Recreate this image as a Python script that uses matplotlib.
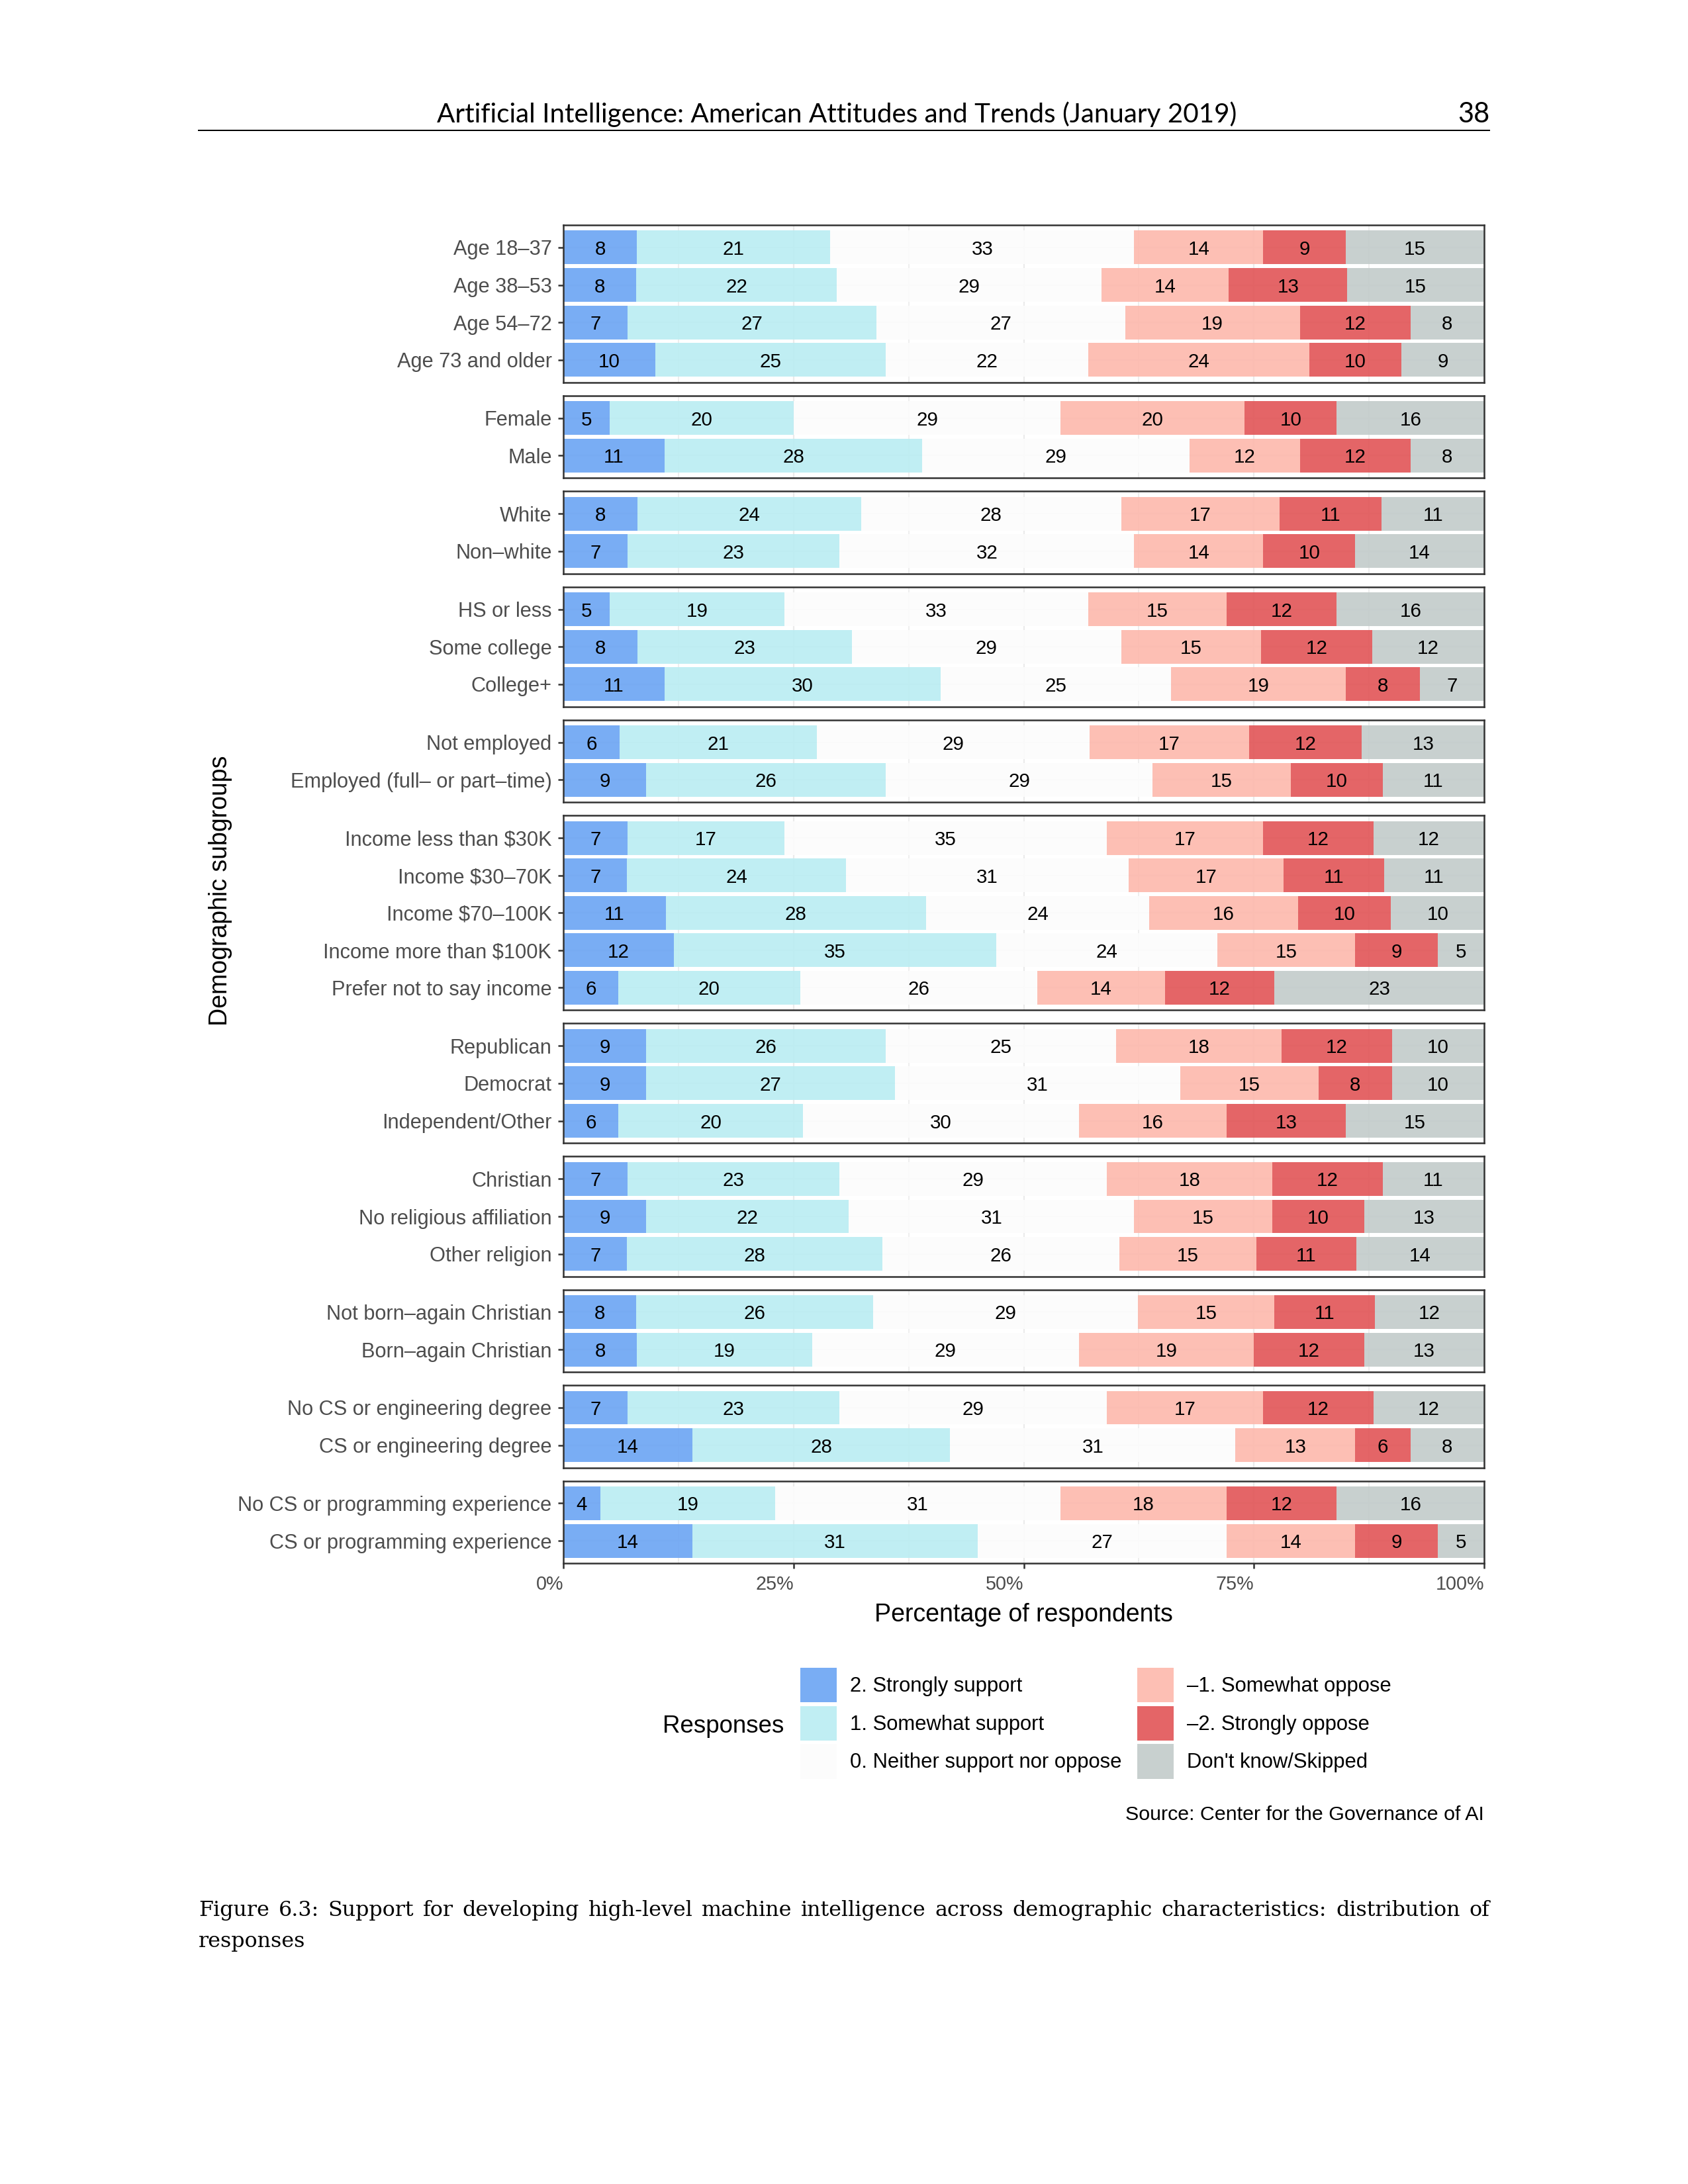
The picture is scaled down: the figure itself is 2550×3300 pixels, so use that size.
import numpy as np
import matplotlib
matplotlib.use("Agg")
import matplotlib.pyplot as plt
from matplotlib.patches import Patch
from matplotlib.lines import Line2D

plt.rcParams['font.family'] = ['Liberation Sans', 'DejaVu Sans']

# response categories, stacked left to right
responses = ["2. Strongly support", "1. Somewhat support", "0. Neither support nor oppose",
             "–1. Somewhat oppose", "–2. Strongly oppose", "Don't know/Skipped"]
colors = ["#6BA4F3", "#BAEDF2", "#FCFCFC", "#FDB8AC", "#E15456", "#C2CBCA"]

# subgroup labels and rounded percentages, one pair per panel
age_groups = ["Age 18–37", "Age 38–53", "Age 54–72", "Age 73 and older"]
age_values = [[8, 21, 33, 14, 9, 15], [8, 22, 29, 14, 13, 15],
              [7, 27, 27, 19, 12, 8], [10, 25, 22, 24, 10, 9]]

gender_groups = ["Female", "Male"]
gender_values = [[5, 20, 29, 20, 10, 16], [11, 28, 29, 12, 12, 8]]

race_groups = ["White", "Non–white"]
race_values = [[8, 24, 28, 17, 11, 11], [7, 23, 32, 14, 10, 14]]

educ_groups = ["HS or less", "Some college", "College+"]
educ_values = [[5, 19, 33, 15, 12, 16], [8, 23, 29, 15, 12, 12],
               [11, 30, 25, 19, 8, 7]]

employ_groups = ["Not employed", "Employed (full– or part–time)"]
employ_values = [[6, 21, 29, 17, 12, 13], [9, 26, 29, 15, 10, 11]]

income_groups = ["Income less than $30K", "Income $30–70K", "Income $70–100K",
                 "Income more than $100K", "Prefer not to say income"]
income_values = [[7, 17, 35, 17, 12, 12], [7, 24, 31, 17, 11, 11],
                 [11, 28, 24, 16, 10, 10], [12, 35, 24, 15, 9, 5],
                 [6, 20, 26, 14, 12, 23]]

party_groups = ["Republican", "Democrat", "Independent/Other"]
party_values = [[9, 26, 25, 18, 12, 10], [9, 27, 31, 15, 8, 10],
                [6, 20, 30, 16, 13, 15]]

relig_groups = ["Christian", "No religious affiliation", "Other religion"]
relig_values = [[7, 23, 29, 18, 12, 11], [9, 22, 31, 15, 10, 13],
                [7, 28, 26, 15, 11, 14]]

bornagain_groups = ["Not born–again Christian", "Born–again Christian"]
bornagain_values = [[8, 26, 29, 15, 11, 12], [8, 19, 29, 19, 12, 13]]

degree_groups = ["No CS or engineering degree", "CS or engineering degree"]
degree_values = [[7, 23, 29, 17, 12, 12], [14, 28, 31, 13, 6, 8]]

exper_groups = ["No CS or programming experience", "CS or programming experience"]
exper_values = [[4, 19, 31, 18, 12, 16], [14, 31, 27, 14, 9, 5]]

panels = [(age_groups, age_values), (gender_groups, gender_values),
          (race_groups, race_values), (educ_groups, educ_values),
          (employ_groups, employ_values), (income_groups, income_values),
          (party_groups, party_values), (relig_groups, relig_values),
          (bornagain_groups, bornagain_values), (degree_groups, degree_values),
          (exper_groups, exper_values)]

W, H = 2550, 3300
fig = plt.figure(figsize=(8.5, 11), dpi=300)

gs = fig.add_gridspec(len(panels), 1, left=851 / W, right=2242 / W,
                      top=1 - 340 / H, bottom=1 - 2362 / H,
                      height_ratios=[len(g) + 0.2 for g, _ in panels], hspace=0.1207)

border = "#333333"
for i, (groups, values) in enumerate(panels):
    ax = fig.add_subplot(gs[i])
    vals = np.array(values, dtype=float)
    pct = vals / vals.sum(axis=1, keepdims=True) * 100
    y = np.arange(len(groups))
    left = np.zeros(len(groups))
    for j in range(len(responses)):
        ax.barh(y, pct[:, j], left=left, height=0.9, color=colors[j], alpha=0.9,
                linewidth=0, zorder=2)
        for yi, l, w, v in zip(y, left, pct[:, j], vals[:, j]):
            ax.text(l + w / 2, yi, f"{int(v)}", ha='center', va='center_baseline',
                    fontsize=7.1, color='black', zorder=3)
        left += pct[:, j]

    ax.set_xlim(0, 100)
    ax.set_ylim(len(groups) - 0.4, -0.6)
    ax.set_yticks(y, groups)
    ax.set_xticks([0, 25, 50, 75, 100], ["0%", "25%", "50%", "75%", "100%"], ha='right')
    ax.set_xticks([12.5, 37.5, 62.5, 87.5], minor=True)
    ax.set_axisbelow(True)
    ax.grid(which='major', color='#EBEBEB', linewidth=0.55)
    ax.grid(which='minor', axis='x', color='#EBEBEB', linewidth=0.4)
    for s in ax.spines.values():
        s.set_color(border)
        s.set_linewidth(0.6)
    ax.tick_params(axis='y', length=2, width=0.6, color=border, pad=2.2,
                   labelsize=7.4, labelcolor='#4D4D4D')
    ax.tick_params(axis='x', which='minor', length=0)
    if i == len(panels) - 1:
        ax.tick_params(axis='x', which='major', length=2, width=0.6, color=border,
                       pad=2.3, labelsize=6.9, labelcolor='#4D4D4D')
    else:
        ax.tick_params(axis='x', which='major', length=0, labelbottom=False)

# axis titles
fig.text(1546 / W, 1 - 2440 / H, "Percentage of respondents", ha='center', va='center',
         fontsize=9.0)
fig.text(333 / W, 1 - 1346 / H, "Demographic subgroups", ha='center', va='center',
         rotation=90, fontsize=9.0)

# legend
handles = [Patch(facecolor=c, alpha=0.9, edgecolor='none') for c in colors]
fig.legend(handles, responses, ncol=2, loc='upper left',
           bbox_to_anchor=(1209 / W, 1 - 2520 / H), frameon=False, fontsize=7.45,
           handlelength=1.77, handleheight=2.22, handletextpad=0.65,
           columnspacing=0.75, labelspacing=0.17, borderpad=0, borderaxespad=0)
fig.text(1001 / W, 1 - 2608 / H, "Responses", ha='left', va='center', fontsize=8.8)
fig.text(2242 / W, 1 - 2742 / H, "Source: Center for the Governance of AI",
         ha='right', va='center', fontsize=7.3)

# page header
fig.text(1264 / W, 1 - 185 / H,
         "Artificial Intelligence: American Attitudes and Trends (January 2019)",
         ha='center', va='baseline', fontsize=9.7, family='Lato')
fig.text(2250 / W, 1 - 185 / H, "38", ha='right', va='baseline', fontsize=10,
         family='Lato')
fig.add_artist(Line2D([300 / W, 2250 / W], [1 - 197 / H, 1 - 197 / H],
                      color='black', linewidth=0.48))

# justified caption, font size fitted to the text width
caption1 = ("Figure 6.3:  Support for developing high-level machine intelligence across "
            "demographic characteristics: distribution of")
renderer = fig.canvas.get_renderer()
probe = fig.text(0, 0, caption1.replace("  ", " "), fontsize=8, family='DejaVu Serif')
cap_size = 8 * 1915 / probe.get_window_extent(renderer).width
probe.remove()
cap_kw = dict(fontsize=cap_size, family='DejaVu Serif', va='baseline', ha='left')
words = caption1.split()
texts = [fig.text(0, 1 - 2895 / H, w, **cap_kw) for w in words]
widths = [t.get_window_extent(renderer).width for t in texts]
gap = (1950 - sum(widths)) / (len(words) - 1)
x = 300.0
for t, w in zip(texts, widths):
    t.set_x(x / W)
    x += w + gap
fig.text(300 / W, 1 - 2942 / H, "responses", **cap_kw)

fig.savefig("out.png", dpi=300)
